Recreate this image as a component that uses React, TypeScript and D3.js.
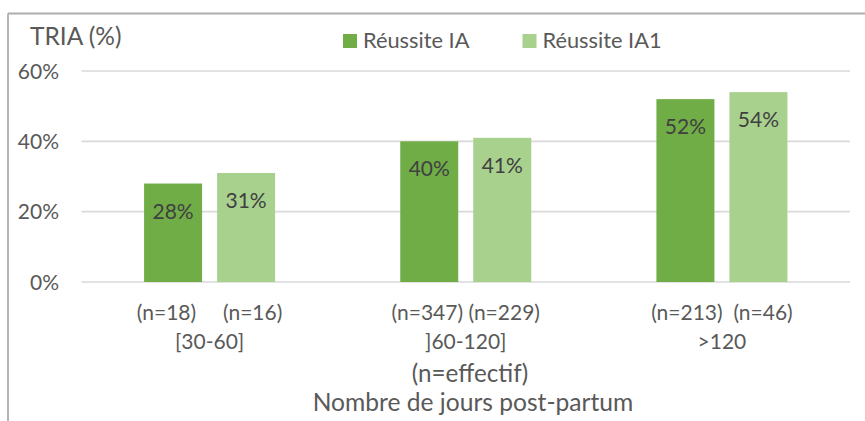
import React from "react";
import * as d3 from "d3";

const categories = ["[30-60]", "]60-120]", ">120"];
const nLines = ["(n=18)     (n=16)", "(n=347) (n=229)", "(n=213)  (n=46)"];
const seriesNames = ["Réussite IA", "Réussite IA1"];
const reussiteIA = [28, 40, 52];
const reussiteIA1 = [31, 41, 54];
const yTicks = [0, 20, 40, 60];
const yTitle = "TRIA (%)";
const xTitle = ["(n=effectif)", "Nombre de jours post-partum"];

const colors = ["#70AD47", "#A9D18E"];
const FONT = "Lato, 'Open Sans', sans-serif";

export default function App() {
  const W = 865, H = 421;
  const x0 = 81.5, x1 = 850;
  const y = d3.scaleLinear().domain([0, 60]).range([282, 71]);
  const xBand = d3.scaleBand().domain(categories).range([x0, x1]).paddingInner(0).paddingOuter(0);
  const barW = 58, gap = 15;
  const series = [reussiteIA, reussiteIA1];
  const fs = 21;

  return (
    <svg width={W} height={H} style={{ position: "absolute", left: 0, top: 0, background: "#fff" }} fontFamily={FONT}>
      <rect x={0} y={0} width={W} height={H} fill="#fff" />
      {/* border */}
      <line x1={8} y1={13.5} x2={W} y2={13.5} stroke="#ADADAD" strokeWidth={1.8} />
      <line x1={8} y1={13.5} x2={8} y2={H} stroke="#ADADAD" strokeWidth={1.8} />
      {/* gridlines */}
      {yTicks.map((t) => (
        <g key={t}>
          <line x1={x0} x2={x1} y1={y(t)} y2={y(t)} stroke="#D9D9D9" strokeWidth={1.6} />
          <text x={59} y={y(t) + 7.5} textAnchor="end" fontSize={fs} fill="#595959">
            {t}%
          </text>
        </g>
      ))}
      {/* bars */}
      {categories.map((c, i) => {
        const cx = (xBand(c) as number) + xBand.bandwidth() / 2;
        const groupW = barW * 2 + gap;
        return (
          <g key={c}>
            {series.map((s, j) => {
              const bx = cx - groupW / 2 + j * (barW + gap);
              return (
                <g key={j}>
                  <rect x={bx} y={y(s[i])} width={barW} height={y(0) - y(s[i])} fill={colors[j]} />
                  <text x={bx + barW / 2} y={y(s[i]) + 35} textAnchor="middle" fontSize={fs} fill="#404040">
                    {s[i]}%
                  </text>
                </g>
              );
            })}
            <text x={cx} y={320} textAnchor="middle" fontSize={fs} fill="#595959" style={{ whiteSpace: "pre" }}>
              {nLines[i]}
            </text>
            <text x={cx} y={349} textAnchor="middle" fontSize={fs} fill="#595959">
              {c}
            </text>
          </g>
        );
      })}
      {/* axis titles */}
      <text x={470} y={382} textAnchor="middle" fontSize={24.2} fill="#595959">{xTitle[0]}</text>
      <text x={473} y={410.5} textAnchor="middle" fontSize={24.6} fill="#595959">{xTitle[1]}</text>
      <text x={30} y={45} fontSize={24.5} fill="#595959">{yTitle}</text>
      {/* legend */}
      {seriesNames.map((n, j) => {
        const lx = j === 0 ? 343 : 522.5;
        return (
          <g key={n}>
            <rect x={lx} y={34} width={14} height={14} fill={colors[j]} />
            <text x={lx + 20} y={48.3} fontSize={21.8} fill="#595959">{n}</text>
          </g>
        );
      })}
    </svg>
  );
}
